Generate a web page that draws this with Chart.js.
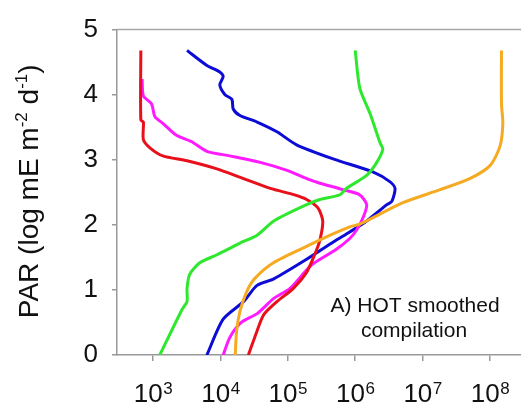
<!DOCTYPE html>
<html>
<head>
<meta charset="utf-8">
<script src="https://cdn.jsdelivr.net/npm/chart.js@4.4.1/dist/chart.umd.min.js"></script>
<style>
html,body{margin:0;padding:0;background:#fff;}
#wrap{width:521px;height:411px;position:relative;}
</style>
</head>
<body>
<div id="wrap"><canvas id="c"></canvas></div>
<script>
// x-axis tick values and labels (base 10, exponent)
const xTickValues = [1e3, 1e4, 1e5, 1e6, 1e7, 1e8];
const xTickExponents = ['3', '4', '5', '6', '7', '8'];
const yTickValues = [0, 1, 2, 3, 4, 5];

// Series (x: abundance, log scale; y: PAR in log units)
const redX = [660, 660, 720, 720, 910, 1400, 3200, 8900, 22000, 55000, 126000, 190000, 280000, 330000, 300000, 250000, 190000, 120000, 69000, 44000, 35000, 27500, 26000];
const redY = [4.68, 3.61, 3.58, 3.31, 3.18, 3.06, 2.985, 2.86, 2.71, 2.56, 2.46, 2.39, 2.26, 2.06, 1.77, 1.54, 1.27, 1.02, 0.82, 0.62, 0.37, 0.07, 0];

const magentaX = [690, 720, 950, 1070, 1400, 2200, 3700, 6300, 13800, 39000, 95000, 214000, 300000, 660000, 1170000, 1480000, 1320000, 1050000, 830000, 520000, 224000, 107000, 62000, 35500, 20400, 13800, 11000];
const magentaY = [4.24, 3.98, 3.86, 3.66, 3.56, 3.38, 3.28, 3.13, 3.06, 2.96, 2.84, 2.69, 2.64, 2.54, 2.46, 2.31, 2.12, 1.92, 1.79, 1.62, 1.38, 1.02, 0.87, 0.64, 0.5, 0.27, 0];

const blueX = [3200, 6300, 9800, 11000, 9800, 11700, 14800, 15500, 19500, 35000, 69000, 135000, 480000, 1860000, 3300000, 3900000, 3500000, 2950000, 1480000, 830000, 480000, 190000, 62000, 35000, 22000, 11000, 6300];
const blueY = [4.68, 4.45, 4.35, 4.28, 4.15, 4.0, 3.93, 3.78, 3.68, 3.58, 3.43, 3.23, 3.01, 2.81, 2.66, 2.56, 2.36, 2.31, 2.06, 1.89, 1.74, 1.47, 1.17, 1.07, 0.82, 0.55, 0];

const greenX = [1000000, 1170000, 1660000, 2340000, 2570000, 2090000, 1480000, 740000, 590000, 300000, 190000, 62000, 35000, 19500, 8900, 5000, 3500, 3200, 3200, 2700, 1260];
const greenY = [4.68, 4.10, 3.71, 3.26, 3.16, 2.96, 2.76, 2.56, 2.46, 2.39, 2.31, 2.06, 1.84, 1.72, 1.54, 1.42, 1.24, 1.02, 0.82, 0.70, 0];

const orangeX = [1.48e8, 1.48e8, 1.55e8, 1.41e8, 1.0e8, 5.0e7, 1.82e7, 5.1e6, 1.17e6, 830000, 380000, 190000, 62000, 32000, 24500, 19500, 17400, 16600];
const orangeY = [4.68, 3.86, 3.56, 3.21, 2.91, 2.71, 2.54, 2.34, 2.01, 1.97, 1.82, 1.67, 1.42, 1.17, 0.97, 0.67, 0.37, 0];

const annotationLines = ['A) HOT smoothed', 'compilation'];

function pts(xs, ys) { return xs.map((x, i) => ({ x: x, y: ys[i] })); }
function ds(xs, ys, color) {
  return { data: pts(xs, ys), borderColor: color, backgroundColor: color, borderWidth: 3,
           pointRadius: 0, tension: 0.25, fill: false };
}

const FONT = '"Liberation Sans", Arial, sans-serif';

const customDraw = {
  id: 'customDraw',
  afterDraw(chart) {
    const ctx = chart.ctx;
    const a = chart.chartArea;
    const xs = chart.scales.x;
    ctx.save();
    // top border
    ctx.strokeStyle = '#a6a6a6';
    ctx.lineWidth = 1.5;
    ctx.beginPath();
    ctx.moveTo(a.left, a.top);
    ctx.lineTo(a.right + 2, a.top);
    ctx.stroke();

    // x tick labels 10^n
    ctx.fillStyle = '#111';
    ctx.textBaseline = 'alphabetic';
    xTickValues.forEach((v, i) => {
      const px = xs.getPixelForValue(v);
      ctx.font = '26px ' + FONT;
      const wb = ctx.measureText('10').width;
      ctx.font = '17px ' + FONT;
      const we = ctx.measureText(xTickExponents[i]).width;
      const left = px - (wb + we) / 2;
      ctx.font = '26px ' + FONT;
      ctx.textAlign = 'left';
      ctx.fillText('10', left, 401.5);
      ctx.font = '17px ' + FONT;
      ctx.fillText(xTickExponents[i], left + wb + 0.5, 394);
    });

    // y axis title with superscripts, rotated
    const parts = [
      { t: 'PAR (log mE m', f: 28, dy: 0 },
      { t: '-2', f: 17, dy: -11 },
      { t: ' d', f: 28, dy: 0 },
      { t: '-1', f: 17, dy: -11 },
      { t: ')', f: 28, dy: 0 }
    ];
    let total = 0;
    parts.forEach(p => { ctx.font = p.f + 'px ' + FONT; p.w = ctx.measureText(p.t).width; total += p.w; });
    ctx.translate(38, (a.top + a.bottom) / 2 - 1);
    ctx.rotate(-Math.PI / 2);
    let x = -total / 2;
    parts.forEach(p => {
      ctx.font = p.f + 'px ' + FONT;
      ctx.fillText(p.t, x, p.dy);
      x += p.w;
    });
    ctx.restore();

    // annotation
    ctx.save();
    ctx.fillStyle = '#111';
    ctx.font = '21px ' + FONT;
    ctx.textAlign = 'center';
    ctx.textBaseline = 'alphabetic';
    ctx.fillText(annotationLines[0], 415, 311.5);
    ctx.fillText(annotationLines[1], 414, 336.5);
    ctx.restore();
  }
};

new Chart(document.getElementById('c'), {
  type: 'line',
  data: {
    datasets: [
      ds(greenX, greenY, '#2ee82e'),
      ds(orangeX, orangeY, '#f6aa22'),
      ds(redX, redY, '#e8101a'),
      ds(magentaX, magentaY, '#ff1aff'),
      ds(blueX, blueY, '#0c0cd6')
    ]
  },
  options: {
    responsive: true,
    maintainAspectRatio: false,
    animation: false,
    devicePixelRatio: 1,
    layout: { padding: { top: 20, left: 0, right: 0, bottom: 0 } },
    plugins: { legend: { display: false }, tooltip: { enabled: false } },
    scales: {
      x: {
        type: 'logarithmic',
        position: 'bottom',
        min: Math.pow(10, 2.466),
        max: Math.pow(10, 8.46),
        afterBuildTicks: (s) => { s.ticks = xTickValues.map(v => ({ value: v })); },
        afterFit: (s) => { s.height = 56; },
        grid: { drawOnChartArea: false, drawTicks: true, tickLength: 6, color: '#999', lineWidth: 1.5 },
        border: { display: true, color: '#999', width: 1.5 },
        ticks: { callback: () => '', autoSkip: false, font: { size: 10 } }
      },
      y: {
        type: 'linear',
        min: 0,
        max: 5,
        afterBuildTicks: (s) => { s.ticks = yTickValues.map(v => ({ value: v })); },
        afterFit: (s) => { s.width = 117; },
        grid: { drawOnChartArea: false, drawTicks: true, tickLength: 5, color: '#999', lineWidth: 1.5 },
        border: { display: true, color: '#999', width: 1.5 },
        ticks: { color: '#111', font: { size: 26, family: FONT }, padding: 14 }
      }
    }
  },
  plugins: [customDraw]
});
</script>
</body>
</html>
